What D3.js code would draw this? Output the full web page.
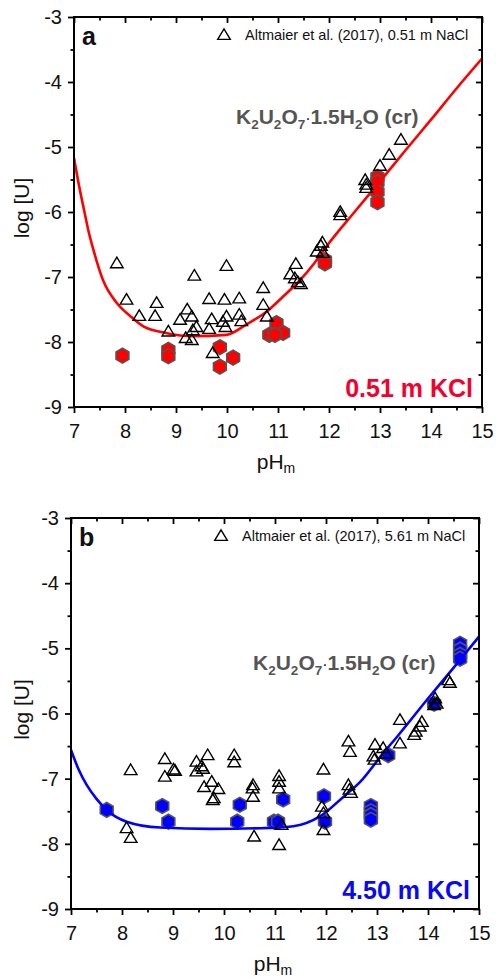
<!DOCTYPE html>
<html><head><meta charset="utf-8">
<script src="https://cdn.jsdelivr.net/npm/d3@7"></script>
<style>body{margin:0;background:#fff}svg{display:block}</style>
</head><body>
<script>
// ---------- DATA ----------
const xTicks = [7, 8, 9, 10, 11, 12, 13, 14, 15];
const yTicks = [-9, -8, -7, -6, -5, -4, -3];

// Panel a: Altmaier et al. (2017), 0.51 m NaCl  [pHm, log U]
const altmaierA = [[13.41,-4.89],[13.18,-5.12],[13.00,-5.29],[12.71,-5.51],[12.73,-5.58],[12.73,-5.63],
 [12.22,-6.00],[12.22,-6.05],[11.87,-6.47],[11.84,-6.52],[11.76,-6.61],[11.88,-6.63],[7.84,-6.79],
 [9.99,-6.83],[9.36,-6.98],[11.35,-6.80],[11.24,-6.96],[11.33,-7.02],[11.39,-7.08],[11.45,-7.11],
 [10.71,-7.17],[8.03,-7.35],[9.65,-7.34],[9.95,-7.35],[10.24,-7.33],[8.62,-7.40],[8.59,-7.60],
 [10.71,-7.43],[8.28,-7.60],[9.22,-7.50],[9.08,-7.66],[9.31,-7.61],[9.70,-7.65],[9.99,-7.61],
 [10.24,-7.58],[10.28,-7.68],[9.92,-7.69],[9.40,-7.77],[9.33,-7.82],[9.65,-7.80],[9.97,-7.77],
 [10.78,-7.61],[8.85,-7.84],[9.19,-7.94],[9.31,-7.97],[9.72,-8.17]];
// Panel a: this work, 0.51 m KCl
const kclA = [[7.95,-8.21],[8.85,-8.12],[8.85,-8.22],[9.86,-8.08],[9.86,-8.38],[10.12,-8.24],
 [10.97,-7.71],[11.10,-7.86],[10.83,-7.89],[10.94,-7.89],[11.92,-6.74],[11.92,-6.79],
 [12.95,-5.46],[12.95,-5.54],[12.95,-5.69],[12.95,-5.85]];
// Panel a: calculated solubility, K2U2O7·1.5H2O(cr)
const curveA = [[7.0,-5.17],[7.1,-5.6],[7.2,-5.98],[7.28,-6.28],[7.38,-6.58],[7.57,-7.05],[7.84,-7.40],
 [8.1,-7.6],[8.36,-7.76],[8.8,-7.86],[9.34,-7.91],[9.99,-7.89],[10.4,-7.72],[10.78,-7.53],[11.1,-7.3],
 [11.43,-7.05],[11.7,-6.8],[11.95,-6.53],[12.5,-6.0],[13.0,-5.53],[13.5,-5.05],[14.0,-4.58],[14.5,-4.1],[15.0,-3.64]];

// Panel b: Altmaier et al. (2017), 5.61 m NaCl
const altmaierB = [[14.40,-5.49],[14.43,-5.53],[14.14,-5.77],[14.17,-5.85],[14.12,-5.87],[13.45,-6.10],
 [13.88,-6.13],[13.84,-6.20],[13.76,-6.28],[13.73,-6.33],[12.44,-6.43],[12.47,-6.59],[12.96,-6.48],
 [13.12,-6.53],[12.93,-6.66],[12.95,-6.71],[13.18,-6.62],[13.45,-6.46],[12.44,-7.10],[12.46,-7.17],
 [12.49,-7.22],[11.95,-6.86],[11.92,-7.43],[11.95,-7.53],[11.95,-7.79],[11.08,-6.96],[11.08,-7.05],
 [11.08,-7.15],[11.13,-7.71],[11.08,-8.02],[10.57,-7.10],[10.56,-7.15],[10.57,-7.28],[10.59,-7.89],
 [10.20,-6.64],[10.20,-6.75],[9.68,-6.64],[9.46,-6.74],[9.46,-6.89],[9.56,-6.81],[9.59,-6.85],
 [9.76,-7.05],[9.61,-7.13],[9.89,-7.16],[9.80,-7.30],[9.78,-7.33],[8.84,-6.70],[8.84,-6.97],
 [9.01,-6.86],[9.04,-6.88],[8.17,-6.87],[8.09,-7.76],[8.17,-7.91]];
// Panel b: this work, 4.50 m KCl
const kclB = [[7.70,-7.48],[8.79,-7.42],[8.91,-7.66],[10.31,-7.40],[10.26,-7.66],[10.98,-7.66],
 [11.06,-7.66],[11.16,-7.32],[11.96,-7.27],[11.98,-7.66],[12.88,-7.42],[12.88,-7.50],[12.88,-7.56],
 [12.88,-7.63],[13.22,-6.64],[14.12,-5.85],[14.63,-4.93],[14.63,-5.02],[14.63,-5.10],[14.63,-5.16]];
// Panel b: calculated solubility
const curveB = [[7.0,-6.56],[7.15,-6.86],[7.31,-7.10],[7.5,-7.31],[7.70,-7.48],[8.09,-7.66],[8.75,-7.75],
 [9.73,-7.77],[10.71,-7.76],[11.36,-7.73],[11.88,-7.58],[12.34,-7.28],[12.67,-7.05],[13.12,-6.61],
 [13.39,-6.36],[14.0,-5.77],[14.5,-5.3],[15.0,-4.82]];

const legendTexts = ["Altmaier et al. (2017), 0.51 m NaCl", "Altmaier et al. (2017), 5.61 m NaCl"];
const mediumTexts = ["0.51 m KCl", "4.50 m KCl"];
const panelLetters = ["a", "b"];

// ---------- DRAW ----------
const W = 496, H = 978;
const FONT = "'Liberation Sans', Arial, Helvetica, sans-serif";
const svg = d3.select("body").append("svg").attr("width", W).attr("height", H)
  .attr("font-family", FONT);
svg.append("rect").attr("width", W).attr("height", H).attr("fill", "#fff");

function hexPath(r) {
  const pts = d3.range(6).map(i => {
    const a = Math.PI / 3 * i - Math.PI / 2;
    return [r * Math.cos(a), r * Math.sin(a)];
  });
  return "M" + pts.map(p => p[0].toFixed(2) + "," + p[1].toFixed(2)).join("L") + "Z";
}
const triPath = "M0,-6.2L6.3,4.4L-6.3,4.4Z";

function panel(cfg) {
  const x = d3.scaleLinear().domain([7, 15]).range([cfg.left, cfg.right]);
  const y = d3.scaleLinear().domain([-9, -3]).range([cfg.bottom, cfg.top]);
  const g = svg.append("g");
  const minorX = d3.range(7.5, 15, 1);
  const minorY = d3.range(-8.5, -3, 1);

  const clipId = "clip" + cfg.idx;
  g.append("clipPath").attr("id", clipId).append("rect")
    .attr("x", cfg.left).attr("y", cfg.top).attr("width", cfg.right - cfg.left).attr("height", cfg.bottom - cfg.top);

  const styleAxis = sel => {
    sel.select(".domain").remove();
    sel.selectAll("line").attr("stroke", "#000").attr("stroke-width", 1.8);
    sel.selectAll("text").attr("font-size", 20).attr("fill", "#111").attr("font-family", FONT);
  };
  // bottom
  g.append("g").attr("transform", `translate(0,${cfg.bottom})`)
    .call(d3.axisBottom(x).tickValues(xTicks).tickSize(6).tickPadding(11).tickFormat(d => String(d))).call(styleAxis);
  g.append("g").attr("transform", `translate(0,${cfg.bottom})`)
    .call(d3.axisBottom(x).tickValues(minorX).tickSize(3.5).tickFormat("")).call(styleAxis);
  // top (inward)
  g.append("g").attr("transform", `translate(0,${cfg.top})`)
    .call(d3.axisTop(x).tickValues(xTicks).tickSize(-6).tickFormat("")).call(styleAxis);
  g.append("g").attr("transform", `translate(0,${cfg.top})`)
    .call(d3.axisTop(x).tickValues(minorX).tickSize(-3.5).tickFormat("")).call(styleAxis);
  // left
  g.append("g").attr("transform", `translate(${cfg.left},0)`)
    .call(d3.axisLeft(y).tickValues(yTicks).tickSize(6).tickPadding(6).tickFormat(d => String(d))).call(styleAxis);
  g.append("g").attr("transform", `translate(${cfg.left},0)`)
    .call(d3.axisLeft(y).tickValues(minorY).tickSize(3.5).tickFormat("")).call(styleAxis);
  // right (inward)
  g.append("g").attr("transform", `translate(${cfg.right},0)`)
    .call(d3.axisRight(y).tickValues(yTicks).tickSize(-6).tickFormat("")).call(styleAxis);
  g.append("g").attr("transform", `translate(${cfg.right},0)`)
    .call(d3.axisRight(y).tickValues(minorY).tickSize(-3.5).tickFormat("")).call(styleAxis);

  // hexagons
  g.append("g").selectAll("path").data(cfg.hex).join("path")
    .attr("d", hexPath(7.4))
    .attr("transform", d => `translate(${x(d[0])},${y(d[1])})`)
    .attr("fill", cfg.color).attr("stroke", "#555").attr("stroke-width", 1.6);

  // curve
  const line = d3.line().x(d => x(d[0])).y(d => y(d[1])).curve(d3.curveMonotoneX);
  g.append("path").datum(cfg.curve).attr("d", line).attr("fill", "none")
    .attr("stroke", cfg.color).attr("stroke-width", 2.6).attr("clip-path", `url(#${clipId})`);

  // triangles
  g.append("g").selectAll("path").data(cfg.tri).join("path")
    .attr("d", triPath)
    .attr("transform", d => `translate(${x(d[0])},${y(d[1])})`)
    .attr("fill", "none").attr("stroke", "#000").attr("stroke-width", 1.4);

  // frame
  g.append("rect").attr("x", cfg.left).attr("y", cfg.top)
    .attr("width", cfg.right - cfg.left).attr("height", cfg.bottom - cfg.top)
    .attr("fill", "none").attr("stroke", "#000").attr("stroke-width", 2);

  // panel letter
  g.append("text").attr("x", cfg.left + 8).attr("y", cfg.top + 28)
    .attr("font-size", 25).attr("font-weight", "bold").attr("fill", "#111").text(cfg.letter);

  // legend
  g.append("path").attr("d", triPath)
    .attr("transform", `translate(${cfg.left + 150},${cfg.top + 18})`)
    .attr("fill", "none").attr("stroke", "#000").attr("stroke-width", 1.4);
  g.append("text").attr("x", cfg.left + 171).attr("y", cfg.top + 23)
    .attr("font-size", 14.5).attr("fill", "#111").text(cfg.legend);

  // compound label
  const t = g.append("text").attr("x", cfg.cx).attr("y", cfg.cy)
    .attr("font-size", 21).attr("font-weight", "bold").attr("fill", "#555");
  const parts = [["K",0],["2",1],["U",0],["2",1],["O",0],["7",1],["·",2],["1.5H",0],["2",1],["O (cr)",0]];
  let shift = 0;
  parts.forEach(([s, k]) => {
    const target = k === 1 ? 5 : 0;
    const ts = t.append("tspan").attr("dy", target - shift).text(s);
    shift = target;
    if (k === 1) ts.attr("font-size", 13.5);
    if (k === 2) ts.attr("fill", "#000099").attr("font-weight", "normal").attr("font-size", 16);
  });

  // medium label
  g.append("text").attr("x", cfg.right - 9).attr("y", cfg.bottom - 10)
    .attr("text-anchor", "end").attr("font-size", 25).attr("font-weight", "bold")
    .attr("fill", cfg.textColor).text(cfg.medium);

  // axis titles
  const cyMid = (cfg.top + cfg.bottom) / 2;
  g.append("text").attr("transform", `translate(29,${cyMid - 4}) rotate(-90)`)
    .attr("text-anchor", "middle").attr("font-size", 21).attr("fill", "#111").text("log [U]");
  const xt = g.append("text").attr("x", (cfg.left + cfg.right) / 2 - 2).attr("y", cfg.bottom + 62)
    .attr("text-anchor", "middle").attr("font-size", 21).attr("fill", "#111");
  xt.append("tspan").text("pH");
  xt.append("tspan").attr("font-size", 14).attr("dy", 4).text("m");
}

panel({idx: 0, left: 74, right: 482, top: 17, bottom: 407, tri: altmaierA, hex: kclA, curve: curveA,
  color: "#ff0000", textColor: "#f5002d", letter: panelLetters[0], legend: legendTexts[0], medium: mediumTexts[0],
  cx: 236, cy: 124});
panel({idx: 1, left: 71, right: 479, top: 518, bottom: 909, tri: altmaierB, hex: kclB, curve: curveB,
  color: "#0000ff", textColor: "#0a0af0", letter: panelLetters[1], legend: legendTexts[1], medium: mediumTexts[1],
  cx: 253, cy: 670});
</script>
</body></html>
